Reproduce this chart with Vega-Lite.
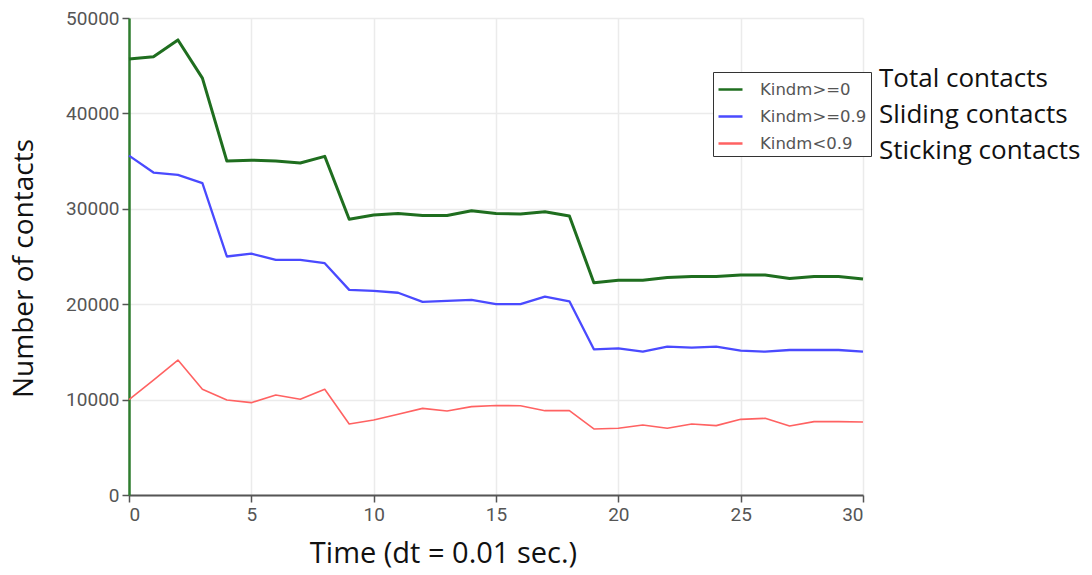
{
  "$schema": "https://vega.github.io/schema/vega-lite/v6.json",
  "width": 734,
  "height": 477,
  "autosize": {"type": "none"},
  "padding": {"left": 129, "top": 18, "right": 229, "bottom": 80},
  "background": "white",
  "config": {"view": {"stroke": null}},
  "data": {"values": [
    {"t":0,"kind":"Kindm>=0","desc":"Total contacts","v":45700},
    {"t":1,"kind":"Kindm>=0","desc":"Total contacts","v":45950},
    {"t":2,"kind":"Kindm>=0","desc":"Total contacts","v":47700},
    {"t":3,"kind":"Kindm>=0","desc":"Total contacts","v":43700},
    {"t":4,"kind":"Kindm>=0","desc":"Total contacts","v":35000},
    {"t":5,"kind":"Kindm>=0","desc":"Total contacts","v":35100},
    {"t":6,"kind":"Kindm>=0","desc":"Total contacts","v":35000},
    {"t":7,"kind":"Kindm>=0","desc":"Total contacts","v":34800},
    {"t":8,"kind":"Kindm>=0","desc":"Total contacts","v":35500},
    {"t":9,"kind":"Kindm>=0","desc":"Total contacts","v":28900},
    {"t":10,"kind":"Kindm>=0","desc":"Total contacts","v":29350},
    {"t":11,"kind":"Kindm>=0","desc":"Total contacts","v":29500},
    {"t":12,"kind":"Kindm>=0","desc":"Total contacts","v":29300},
    {"t":13,"kind":"Kindm>=0","desc":"Total contacts","v":29300},
    {"t":14,"kind":"Kindm>=0","desc":"Total contacts","v":29800},
    {"t":15,"kind":"Kindm>=0","desc":"Total contacts","v":29500},
    {"t":16,"kind":"Kindm>=0","desc":"Total contacts","v":29450},
    {"t":17,"kind":"Kindm>=0","desc":"Total contacts","v":29700},
    {"t":18,"kind":"Kindm>=0","desc":"Total contacts","v":29250},
    {"t":19,"kind":"Kindm>=0","desc":"Total contacts","v":22250},
    {"t":20,"kind":"Kindm>=0","desc":"Total contacts","v":22500},
    {"t":21,"kind":"Kindm>=0","desc":"Total contacts","v":22500},
    {"t":22,"kind":"Kindm>=0","desc":"Total contacts","v":22800},
    {"t":23,"kind":"Kindm>=0","desc":"Total contacts","v":22900},
    {"t":24,"kind":"Kindm>=0","desc":"Total contacts","v":22900},
    {"t":25,"kind":"Kindm>=0","desc":"Total contacts","v":23050},
    {"t":26,"kind":"Kindm>=0","desc":"Total contacts","v":23050},
    {"t":27,"kind":"Kindm>=0","desc":"Total contacts","v":22700},
    {"t":28,"kind":"Kindm>=0","desc":"Total contacts","v":22900},
    {"t":29,"kind":"Kindm>=0","desc":"Total contacts","v":22900},
    {"t":30,"kind":"Kindm>=0","desc":"Total contacts","v":22650},
    {"t":0,"kind":"Kindm>=0.9","desc":"Sliding contacts","v":35570},
    {"t":1,"kind":"Kindm>=0.9","desc":"Sliding contacts","v":33800},
    {"t":2,"kind":"Kindm>=0.9","desc":"Sliding contacts","v":33550},
    {"t":3,"kind":"Kindm>=0.9","desc":"Sliding contacts","v":32700},
    {"t":4,"kind":"Kindm>=0.9","desc":"Sliding contacts","v":25000},
    {"t":5,"kind":"Kindm>=0.9","desc":"Sliding contacts","v":25300},
    {"t":6,"kind":"Kindm>=0.9","desc":"Sliding contacts","v":24650},
    {"t":7,"kind":"Kindm>=0.9","desc":"Sliding contacts","v":24650},
    {"t":8,"kind":"Kindm>=0.9","desc":"Sliding contacts","v":24300},
    {"t":9,"kind":"Kindm>=0.9","desc":"Sliding contacts","v":21500},
    {"t":10,"kind":"Kindm>=0.9","desc":"Sliding contacts","v":21400},
    {"t":11,"kind":"Kindm>=0.9","desc":"Sliding contacts","v":21200},
    {"t":12,"kind":"Kindm>=0.9","desc":"Sliding contacts","v":20250},
    {"t":13,"kind":"Kindm>=0.9","desc":"Sliding contacts","v":20350},
    {"t":14,"kind":"Kindm>=0.9","desc":"Sliding contacts","v":20450},
    {"t":15,"kind":"Kindm>=0.9","desc":"Sliding contacts","v":20000},
    {"t":16,"kind":"Kindm>=0.9","desc":"Sliding contacts","v":20000},
    {"t":17,"kind":"Kindm>=0.9","desc":"Sliding contacts","v":20800},
    {"t":18,"kind":"Kindm>=0.9","desc":"Sliding contacts","v":20300},
    {"t":19,"kind":"Kindm>=0.9","desc":"Sliding contacts","v":15270},
    {"t":20,"kind":"Kindm>=0.9","desc":"Sliding contacts","v":15380},
    {"t":21,"kind":"Kindm>=0.9","desc":"Sliding contacts","v":15020},
    {"t":22,"kind":"Kindm>=0.9","desc":"Sliding contacts","v":15550},
    {"t":23,"kind":"Kindm>=0.9","desc":"Sliding contacts","v":15440},
    {"t":24,"kind":"Kindm>=0.9","desc":"Sliding contacts","v":15550},
    {"t":25,"kind":"Kindm>=0.9","desc":"Sliding contacts","v":15130},
    {"t":26,"kind":"Kindm>=0.9","desc":"Sliding contacts","v":15020},
    {"t":27,"kind":"Kindm>=0.9","desc":"Sliding contacts","v":15200},
    {"t":28,"kind":"Kindm>=0.9","desc":"Sliding contacts","v":15200},
    {"t":29,"kind":"Kindm>=0.9","desc":"Sliding contacts","v":15200},
    {"t":30,"kind":"Kindm>=0.9","desc":"Sliding contacts","v":15020},
    {"t":0,"kind":"Kindm<0.9","desc":"Sticking contacts","v":10000},
    {"t":1,"kind":"Kindm<0.9","desc":"Sticking contacts","v":12050},
    {"t":2,"kind":"Kindm<0.9","desc":"Sticking contacts","v":14150},
    {"t":3,"kind":"Kindm<0.9","desc":"Sticking contacts","v":11080},
    {"t":4,"kind":"Kindm<0.9","desc":"Sticking contacts","v":9960},
    {"t":5,"kind":"Kindm<0.9","desc":"Sticking contacts","v":9680},
    {"t":6,"kind":"Kindm<0.9","desc":"Sticking contacts","v":10480},
    {"t":7,"kind":"Kindm<0.9","desc":"Sticking contacts","v":10030},
    {"t":8,"kind":"Kindm<0.9","desc":"Sticking contacts","v":11080},
    {"t":9,"kind":"Kindm<0.9","desc":"Sticking contacts","v":7440},
    {"t":10,"kind":"Kindm<0.9","desc":"Sticking contacts","v":7860},
    {"t":11,"kind":"Kindm<0.9","desc":"Sticking contacts","v":8460},
    {"t":12,"kind":"Kindm<0.9","desc":"Sticking contacts","v":9080},
    {"t":13,"kind":"Kindm<0.9","desc":"Sticking contacts","v":8800},
    {"t":14,"kind":"Kindm<0.9","desc":"Sticking contacts","v":9260},
    {"t":15,"kind":"Kindm<0.9","desc":"Sticking contacts","v":9380},
    {"t":16,"kind":"Kindm<0.9","desc":"Sticking contacts","v":9360},
    {"t":17,"kind":"Kindm<0.9","desc":"Sticking contacts","v":8840},
    {"t":18,"kind":"Kindm<0.9","desc":"Sticking contacts","v":8840},
    {"t":19,"kind":"Kindm<0.9","desc":"Sticking contacts","v":6920},
    {"t":20,"kind":"Kindm<0.9","desc":"Sticking contacts","v":6990},
    {"t":21,"kind":"Kindm<0.9","desc":"Sticking contacts","v":7340},
    {"t":22,"kind":"Kindm<0.9","desc":"Sticking contacts","v":6990},
    {"t":23,"kind":"Kindm<0.9","desc":"Sticking contacts","v":7440},
    {"t":24,"kind":"Kindm<0.9","desc":"Sticking contacts","v":7270},
    {"t":25,"kind":"Kindm<0.9","desc":"Sticking contacts","v":7930},
    {"t":26,"kind":"Kindm<0.9","desc":"Sticking contacts","v":8040},
    {"t":27,"kind":"Kindm<0.9","desc":"Sticking contacts","v":7230},
    {"t":28,"kind":"Kindm<0.9","desc":"Sticking contacts","v":7690},
    {"t":29,"kind":"Kindm<0.9","desc":"Sticking contacts","v":7690},
    {"t":30,"kind":"Kindm<0.9","desc":"Sticking contacts","v":7650}
  ]},
  "mark": {"type": "line", "strokeJoin": "round"},
  "encoding": {
    "x": {"field": "t", "type": "quantitative",
      "scale": {"domain": [0, 30], "nice": false},
      "axis": {"values": [0,5,10,15,20,25,30], "title": "Time (dt = 0.01 sec.)",
        "titleFont": "Open Sans", "titleFontSize": 29, "titleFontWeight": "normal", "titleColor": "#111",
        "titleX": 314, "titleY": 58, "titleBaseline": "middle", "titleAnchor": "middle",
        "labelFont": "Roboto", "labelFontSize": 19, "labelColor": "#555", "labelPadding": 3,
        "domainColor": "#555", "domainWidth": 2, "tickColor": "#555", "tickSize": 7, "tickWidth": 1.5,
        "gridColor": "#ebebeb", "gridWidth": 1.5}},
    "y": {"field": "v", "type": "quantitative",
      "scale": {"domain": [0, 50000], "nice": false},
      "axis": {"values": [0,10000,20000,30000,40000,50000], "format": "d", "title": "Number of contacts",
        "titleFont": "Open Sans", "titleFontSize": 28, "titleFontWeight": "normal", "titleColor": "#111",
        "titleX": -105, "titleY": 250, "titleAngle": -90, "titleBaseline": "middle", "titleAnchor": "middle",
        "labelFont": "Roboto", "labelFontSize": 19, "labelColor": "#555", "labelPadding": 3,
        "domainColor": "#2e7d2e", "domainWidth": 2.5, "tickColor": "#555", "tickSize": 7, "tickWidth": 1.5,
        "gridColor": "#ebebeb", "gridWidth": 1.5}},
    "color": {"field": "kind", "type": "nominal",
      "scale": {"domain": ["Kindm>=0", "Kindm>=0.9", "Kindm<0.9"], "range": ["#1f6e1f", "#4a4aff", "#ff6262"]},
      "legend": {"orient": "none", "legendX": 584, "legendY": 54, "title": null,
        "strokeColor": "#333", "padding": 4, "symbolType": "stroke", "symbolSize": 576, "symbolStrokeWidth": 2.5,
        "labelFont": "DejaVu Sans", "labelFontSize": 16.5, "labelColor": "#555", "rowPadding": 5, "labelOffset": 16,
        "fillColor": "white"}},
    "strokeWidth": {"field": "desc", "type": "nominal",
      "scale": {"domain": ["Total contacts", "Sliding contacts", "Sticking contacts"], "range": [3, 1.6, 1.6]},
      "legend": {"orient": "none", "legendX": 724, "legendY": 48, "title": null,
        "symbolOpacity": 0, "symbolSize": 1, "symbolStrokeWidth": 0, "symbolType": "circle",
        "labelFont": "Open Sans", "labelFontSize": 26, "labelColor": "#111", "rowPadding": 10, "labelOffset": 0, "labelLimit": 400}}
  }
}
